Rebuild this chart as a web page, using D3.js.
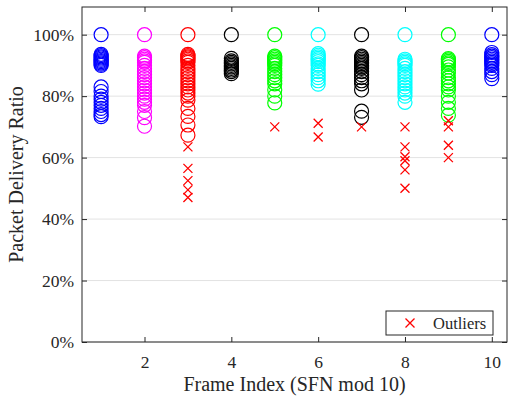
<!DOCTYPE html>
<html>
<head>
<meta charset="utf-8">
<script src="https://cdn.jsdelivr.net/npm/d3@7"></script>
<style>
  body { margin: 0; background: #fff; }
  text { font-family: "Liberation Serif", "Times New Roman", serif; fill: #262626; }
</style>
</head>
<body>
<svg id="chart"></svg>
<script>
// frame index 1..10, delivery ratio in %
const frames = [1, 2, 3, 4, 5, 6, 7, 8, 9, 10];
const frameColors = ['#0000ff', '#ff00ff', '#ff0000', '#000000', '#00ff00',
                     '#00ffff', '#000000', '#00ffff', '#00ff00', '#0000ff'];

const ratios1 = [100, 93.6, 93.2, 92.8, 92.4, 92, 91.6, 91.2, 90.8, 90.4, 90, 83, 81.5, 80, 79, 78, 77, 76, 75, 74, 73.3];
const ratios2 = [100, 93, 92.5, 92, 91.5, 91, 90, 89, 88, 87, 86, 85, 84, 83, 82, 81, 80, 79, 78, 77, 75, 73, 70.2];
const ratios3 = [100, 93.6, 93.2, 92.8, 92.4, 92, 91.5, 91, 90, 89, 88, 87, 86, 85, 84, 83, 82, 81, 80, 78.7, 76, 73.4, 70.6, 67.3];
const ratios4 = [100, 92.3, 91.5, 91, 90.5, 90, 89.5, 89, 88.5, 88, 87.3];
const ratios5 = [100, 93, 92.5, 92, 91.5, 91, 90.5, 90, 89, 88, 87, 86, 85, 84, 82, 80, 77.8];
const ratios6 = [100, 93.8, 93.3, 92.8, 92.3, 91.8, 91.2, 90.5, 90, 89, 88, 87, 86, 85, 83.9];
const ratios7 = [100, 93, 92.5, 92, 91.5, 91, 90.5, 90, 89.5, 89, 88, 87, 86, 85, 84, 82, 75.1, 73.1];
const ratios8 = [100, 92, 91.5, 91, 90.5, 90, 89, 88, 87, 86, 85, 84, 83, 82, 81, 80, 78];
const ratios9 = [100, 92.2, 91.8, 91.3, 90.8, 90.3, 89.5, 88.5, 87.5, 86, 85, 84, 83, 82, 80, 78, 76, 73.8];
const ratios10 = [100, 94.2, 93.5, 93, 92.5, 92, 91.5, 91, 90.5, 90, 89, 88, 87, 85.7];

const outliers1 = [];
const outliers2 = [];
const outliers3 = [63.5, 56.5, 52.5, 49.5, 47];
const outliers4 = [];
const outliers5 = [70];
const outliers6 = [71.2, 66.7];
const outliers7 = [70];
const outliers8 = [70, 63.5, 60.3, 59, 56, 50];
const outliers9 = [72, 70, 64, 60];
const outliers10 = [];

const yTicks = [0, 20, 40, 60, 80, 100];
const xTicks = [2, 4, 6, 8, 10];

const allRatios = [ratios1, ratios2, ratios3, ratios4, ratios5, ratios6, ratios7, ratios8, ratios9, ratios10];
const allOutliers = [outliers1, outliers2, outliers3, outliers4, outliers5, outliers6, outliers7, outliers8, outliers9, outliers10];

const width = 508, height = 400;
const marginLeft = 82, marginRight = 1, marginTop = 7, marginBottom = 58;
const axisColor = '#262626';

const svg = d3.select('#chart')
  .attr('width', width)
  .attr('height', height);

const x = d3.scaleLinear().domain([0.56, 10.35]).range([marginLeft, width - marginRight]);
const y = d3.scaleLinear().domain([0, 109]).range([height - marginBottom, marginTop]);

// grid
svg.append('g')
  .selectAll('line')
  .data(yTicks)
  .join('line')
  .attr('x1', marginLeft).attr('x2', width - marginRight)
  .attr('y1', d => y(d)).attr('y2', d => y(d))
  .style('stroke', '#e3e3e3')
  .style('stroke-width', 1);

// circles
frames.forEach((f, i) => {
  svg.append('g')
    .selectAll('circle')
    .data(allRatios[i])
    .join('circle')
    .attr('cx', x(f))
    .attr('cy', d => y(d))
    .attr('r', 7)
    .style('fill', 'none')
    .style('stroke', frameColors[i])
    .style('stroke-width', 1.2);
});

// outliers
const crossPath = 'M-4.5,-4.5L4.5,4.5M-4.5,4.5L4.5,-4.5';
frames.forEach((f, i) => {
  svg.append('g')
    .selectAll('path')
    .data(allOutliers[i])
    .join('path')
    .attr('d', crossPath)
    .attr('transform', d => `translate(${x(f)},${y(d)})`)
    .style('fill', 'none')
    .style('stroke', '#ff0000')
    .style('stroke-width', 1.3);
});

// axes (ticks inward, box on)
const styleAxis = g => {
  g.select('.domain').remove();
  g.selectAll('.tick line').style('stroke', axisColor);
  g.selectAll('.tick text')
    .style('font-family', '"Liberation Serif", serif')
    .style('font-size', '17.5px')
    .style('fill', axisColor);
};

svg.append('g')
  .attr('transform', `translate(0,${height - marginBottom})`)
  .call(d3.axisBottom(x).tickValues(xTicks).tickSize(-5).tickPadding(14))
  .call(styleAxis);

svg.append('g')
  .attr('transform', `translate(0,${marginTop})`)
  .call(d3.axisTop(x).tickValues(xTicks).tickSize(-5).tickFormat(''))
  .call(styleAxis);

svg.append('g')
  .attr('transform', `translate(${marginLeft},0)`)
  .call(d3.axisLeft(y).tickValues(yTicks).tickSize(-5).tickPadding(8).tickFormat(d => d + '%'))
  .call(styleAxis);

svg.append('g')
  .attr('transform', `translate(${width - marginRight},0)`)
  .call(d3.axisRight(y).tickValues(yTicks).tickSize(-5).tickFormat(''))
  .call(styleAxis);

svg.append('rect')
  .attr('x', marginLeft).attr('y', marginTop)
  .attr('width', width - marginRight - marginLeft)
  .attr('height', height - marginBottom - marginTop)
  .style('fill', 'none')
  .style('stroke', axisColor)
  .style('stroke-width', 1);

// labels
svg.append('text')
  .attr('x', (marginLeft + width - marginRight) / 2)
  .attr('y', 391)
  .attr('text-anchor', 'middle')
  .style('font-size', '20px')
  .text('Frame Index (SFN mod 10)');

svg.append('text')
  .attr('transform', `translate(23,${(marginTop + height - marginBottom) / 2}) rotate(-90)`)
  .attr('text-anchor', 'middle')
  .style('font-size', '20px')
  .text('Packet Delivery Ratio');

// legend
const legend = svg.append('g');
legend.append('rect')
  .attr('x', 386).attr('y', 311)
  .attr('width', 107).attr('height', 24)
  .style('fill', '#fff')
  .style('stroke', axisColor)
  .style('stroke-width', 1);
legend.append('path')
  .attr('d', crossPath)
  .attr('transform', 'translate(410,323)')
  .style('fill', 'none')
  .style('stroke', '#ff0000')
  .style('stroke-width', 1.3);
legend.append('text')
  .attr('x', 433).attr('y', 328.5)
  .style('font-size', '16.5px')
  .text('Outliers');
</script>
</body>
</html>
